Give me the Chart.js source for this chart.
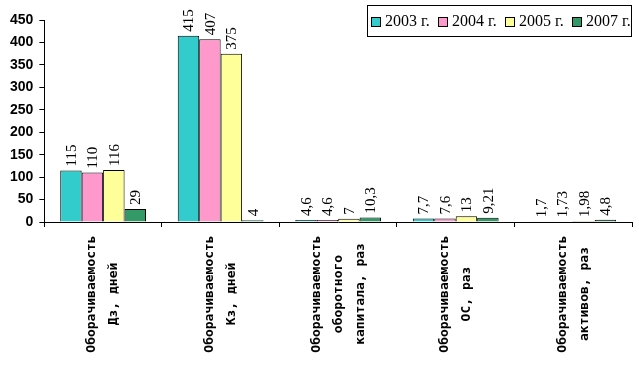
<!DOCTYPE html>
<html>
<head>
<meta charset="utf-8">
<script src="https://cdn.jsdelivr.net/npm/chart.js@4.4.1/dist/chart.umd.min.js"></script>
<style>
  html, body { margin: 0; padding: 0; background: #fff; }
  #wrap { width: 639px; height: 365px; }
</style>
</head>
<body>
<div id="wrap"><canvas id="myChart" width="639" height="365"></canvas></div>
<script>
const categories = [
    ["Оборачиваемость", "Дз, дней"],
    ["Оборачиваемость", "Кз, дней"],
    ["Оборачиваемость", "оборотного", "капитала, раз"],
    ["Оборачиваемость", "ОС, раз"],
    ["Оборачиваемость", "активов, раз"]
];
const seriesNames = ["2003 г.", "2004 г.", "2005 г.", "2007 г."];
const values2003 = [115, 415, 4.6, 7.7, 1.7];
const values2004 = [110, 407, 4.6, 7.6, 1.73];
const values2005 = [116, 375, 7, 13, 1.98];
const values2007 = [29, 4, 10.3, 9.21, 4.8];
const yTicks = [0, 50, 100, 150, 200, 250, 300, 350, 400, 450];

const colors = ["#33CCCC", "#FF99CC", "#FFFF99", "#339966"];

// подписи значений над столбиками (повернуты)
const valueLabels = {
    id: "valueLabels",
    afterDatasetsDraw(chart) {
        const c = chart.ctx;
        c.save();
        c.font = "15px 'Liberation Serif', 'Times New Roman', serif";
        c.fillStyle = "#000";
        c.textAlign = "left";
        c.textBaseline = "middle";
        chart.data.datasets.forEach((ds, i) => {
            chart.getDatasetMeta(i).data.forEach((bar, j) => {
                const txt = String(ds.data[j]).replace(".", ",");
                c.save();
                c.translate(bar.x + 1, bar.y - 4);
                c.rotate(-Math.PI / 2);
                c.fillText(txt, 0, 0);
                c.restore();
            });
        });
        c.restore();
    }
};

// подписи категорий, строки по центру
const catLabels = {
    id: "catLabels",
    afterDraw(chart) {
        const c = chart.ctx;
        const xs = chart.scales.x;
        const area = chart.chartArea;
        c.save();
        c.font = "bold 13px 'DejaVu Sans Mono', 'Courier New', monospace";
        c.fillStyle = "#000";
        c.textAlign = "center";
        c.textBaseline = "middle";
        categories.forEach((lines, i) => {
            const cx = xs.getPixelForTick(i);
            lines.forEach((ln, k) => {
                const x = cx + (k - (lines.length - 1) / 2) * 22;
                c.save();
                c.translate(x, area.bottom + 72);
                c.rotate(-Math.PI / 2);
                c.fillText(ln, 0, 0);
                c.restore();
            });
        });
        c.restore();
    }
};

// легенда в рамке
const boxLegend = {
    id: "boxLegend",
    afterDraw(chart) {
        const c = chart.ctx;
        c.save();
        c.fillStyle = "#fff";
        c.fillRect(367, 5, 265, 32);
        c.strokeStyle = "#000";
        c.lineWidth = 1;
        c.strokeRect(367.5, 5.5, 264, 31);
        c.font = "16px 'Liberation Serif', 'Times New Roman', serif";
        c.textBaseline = "middle";
        c.textAlign = "left";
        chart.data.datasets.forEach((ds, i) => {
            const x = 371 + i * 67;
            c.fillStyle = ds.backgroundColor;
            c.fillRect(x, 17, 10, 10);
            c.strokeRect(x + 0.5, 17.5, 9, 9);
            c.fillStyle = "#000";
            c.fillText(ds.label, x + 14, 22);
        });
        c.restore();
    }
};

const ctx = document.getElementById("myChart");

new Chart(ctx, {
    type: "bar",
    data: {
        labels: categories.map(l => l.join(" ")),
        datasets: [values2003, values2004, values2005, values2007].map((d, i) => ({
            label: seriesNames[i],
            data: d,
            backgroundColor: colors[i],
            borderColor: "#000",
            borderWidth: 1,
            categoryPercentage: 0.73,
            barPercentage: 1.0
        }))
    },
    options: {
        responsive: false,
        animation: false,
        layout: {
            padding: { left: 4, right: 7, top: 20, bottom: 138 }
        },
        plugins: {
            legend: { display: false },
            tooltip: { enabled: false }
        },
        scales: {
            x: {
                grid: {
                    offset: true,
                    drawOnChartArea: false,
                    drawTicks: true,
                    tickLength: 5,
                    color: "#000"
                },
                border: { color: "#000" },
                ticks: { display: false }
            },
            y: {
                min: 0,
                max: 450,
                afterBuildTicks(scale) {
                    scale.ticks = yTicks.map(v => ({ value: v }));
                },
                grid: {
                    drawOnChartArea: false,
                    drawTicks: true,
                    tickLength: 5,
                    color: "#000"
                },
                border: { color: "#000" },
                ticks: {
                    padding: 6,
                    color: "#000",
                    font: { family: "'Liberation Sans', Arial, sans-serif", size: 14, weight: "bold" }
                }
            }
        }
    },
    plugins: [valueLabels, catLabels, boxLegend]
});
</script>
</body>
</html>
